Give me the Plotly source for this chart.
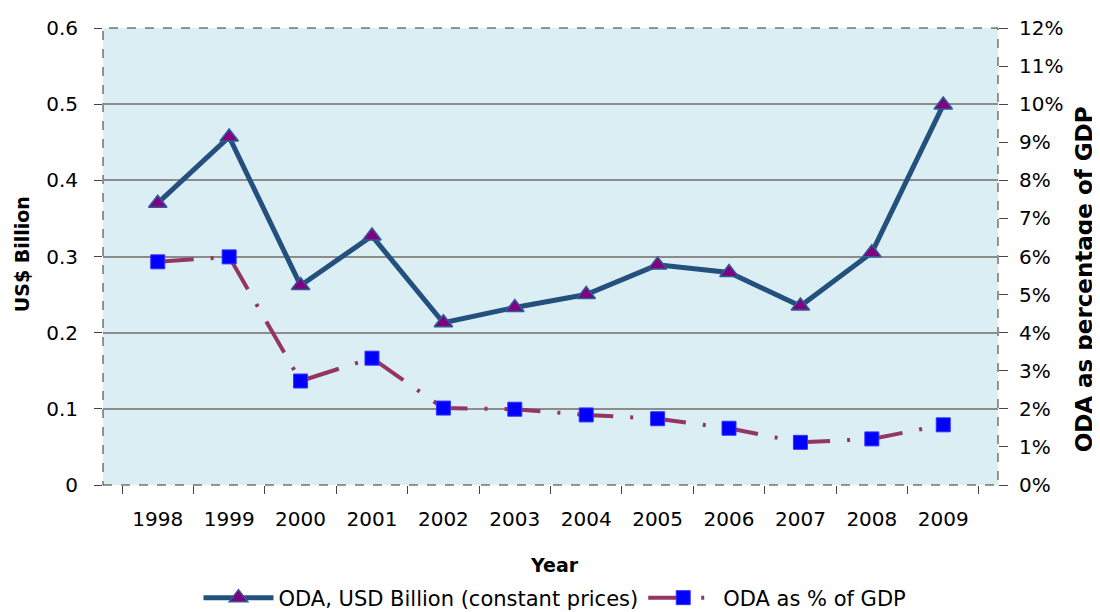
import plotly.graph_objects as go

years = ["1998", "1999", "2000", "2001", "2002", "2003", "2004", "2005", "2006", "2007", "2008", "2009"]
oda_usd_billion = [0.370, 0.457, 0.262, 0.327, 0.213, 0.233, 0.250, 0.289, 0.279, 0.235, 0.305, 0.499]
oda_pct_gdp = [0.0586, 0.0599, 0.0273, 0.0333, 0.0202, 0.0199, 0.0184, 0.0174, 0.0149, 0.0112, 0.0121, 0.0158]

left_ticks = [0, 0.1, 0.2, 0.3, 0.4, 0.5, 0.6]
left_labels = ["0", "0.1", "0.2", "0.3", "0.4", "0.5", "0.6"]

FONT = "DejaVu Sans"
W, H = 1092, 604
ML, MR, MT, MB = 95, 102, 20, 127
PH = H - MT - MB

fig = go.Figure()

fig.add_trace(go.Scatter(
    x=years, y=oda_usd_billion, name="ODA, USD Billion (constant prices)",
    mode="lines+markers",
    line=dict(color="#24507E", width=5),
    marker=dict(symbol="triangle-up", size=16, color="#800080",
                line=dict(color="#2E5C99", width=1.5)),
    yaxis="y", cliponaxis=False,
))

fig.add_trace(go.Scatter(
    x=years, y=oda_pct_gdp, name="ODA as % of GDP",
    mode="lines+markers",
    line=dict(color="#953563", width=4, dash="36px,17px,3px,17px"),
    marker=dict(symbol="square", size=14, color="#0000FF",
                line=dict(color="#3333FF", width=1)),
    yaxis="y2", cliponaxis=False,
))

fig.update_layout(
    width=W, height=H,
    margin=dict(l=ML, r=MR, t=MT, b=MB, autoexpand=False),
    paper_bgcolor="white",
    plot_bgcolor="#DBEEF3",
    font=dict(family=FONT, size=20, color="black"),
    showlegend=True,
    legend=dict(orientation="h", x=0.505, xanchor="center", y=-113 / PH, yanchor="middle",
                font=dict(family=FONT, size=21), bgcolor="rgba(0,0,0,0)",
                itemwidth=70, tracegroupgap=0),
    xaxis=dict(
        type="category", tickson="boundaries",
        ticks="outside", ticklen=8, tickcolor="#444", tickwidth=1,
        showgrid=False, showline=False, zeroline=False,
        ticklabelstandoff=20,
        tickfont=dict(family=FONT, size=20),
    ),
    yaxis=dict(
        range=[0, 0.6], tickvals=left_ticks, ticktext=left_labels,
        ticks="outside", ticklen=8, tickcolor="#444",
        showgrid=True, gridcolor="#8C8C8C", gridwidth=2,
        zeroline=False, showline=False,
        ticklabelstandoff=12,
        tickfont=dict(family=FONT, size=20),
    ),
    yaxis2=dict(
        range=[0, 0.12], dtick=0.01, tickformat=".0%",
        overlaying="y", side="right",
        ticks="outside", ticklen=9, tickcolor="#444",
        showgrid=False, zeroline=False, showline=False,
        ticklabelstandoff=7,
        tickfont=dict(family=FONT, size=20),
    ),
    shapes=[dict(type="rect", xref="paper", yref="paper", x0=0, x1=1, y0=0, y1=1,
                 line=dict(color="#333333", width=1, dash="dash"), layer="below")],
    annotations=[
        dict(text="<b>Year</b>", xref="paper", yref="paper", x=0.505, y=0,
             xanchor="center", yanchor="middle", yshift=-80, showarrow=False,
             font=dict(family=FONT, size=19)),
        dict(text="<b>US$ Billion</b>", xref="paper", yref="paper", x=0, y=0.505,
             xanchor="center", yanchor="middle", xshift=-81, textangle=-90, showarrow=False,
             font=dict(family=FONT, size=19)),
        dict(text="<b>ODA as percentage of GDP</b>", xref="paper", yref="paper", x=1, y=0.45,
             xanchor="center", yanchor="middle", xshift=86, textangle=-90, showarrow=False,
             font=dict(family=FONT, size=23)),
    ],
)

fig.write_html("out.html")
